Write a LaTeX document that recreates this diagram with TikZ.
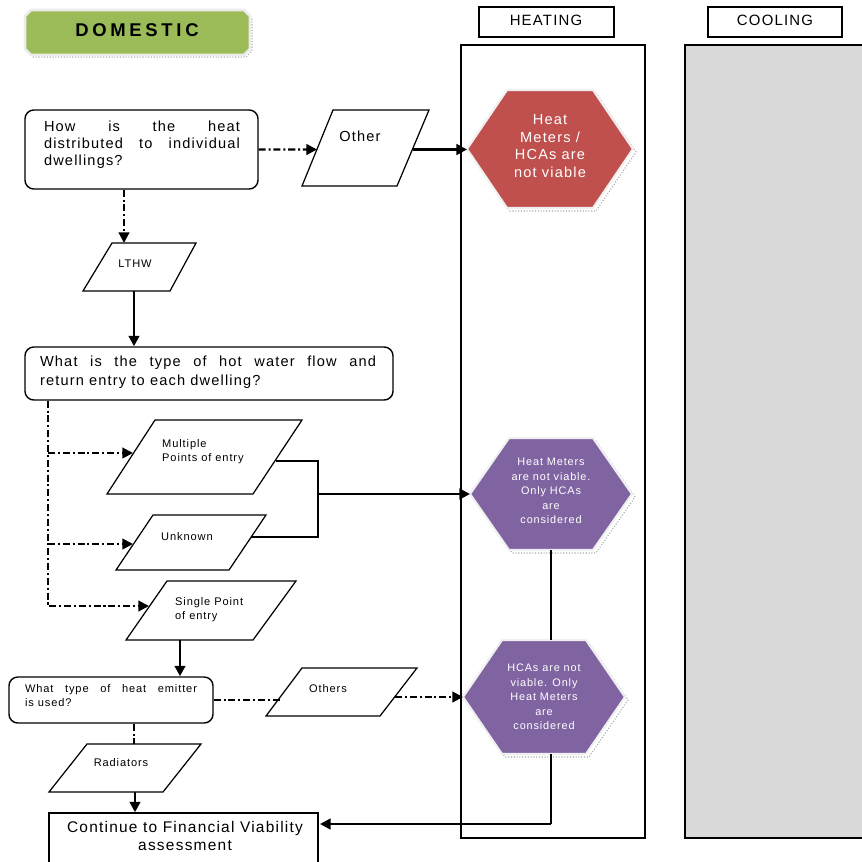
\documentclass[tikz,border=0pt]{standalone}
\usepackage{fontspec}
\setmainfont{Liberation Sans}[LetterSpace=8]
\usetikzlibrary{arrows.meta,fit,calc}

\definecolor{domgreen}{HTML}{9BBB59}
\definecolor{heatred}{HTML}{C0504D}
\definecolor{hcapurple}{HTML}{8064A2}
\definecolor{coolgray}{HTML}{D9D9D9}

\tikzset{
  qbox/.style={draw, line width=0.8pt, rounded corners=5pt, inner sep=0pt},
  hdbox/.style={draw, line width=0.8pt, inner sep=0pt},
  para/.style={draw, line width=0.7pt},
  dashdot/.style={line width=1.2pt, dash pattern=on 4pt off 1.6pt on 1.2pt off 1.6pt},
  flow/.style={line width=1.6pt},
  thinline/.style={line width=0.8pt},
  tip/.style={-{Triangle[length=6pt,width=6pt]}},
  bigtxt/.style={font=\fontsize{8.3}{9.6}\selectfont},
  smalltxt/.style={font=\fontsize{6.3}{8}\selectfont},
}

\begin{document}
\begin{tikzpicture}[x=0.02cm, y=-0.02cm]
    \useasboundingbox (0,0) rectangle (862,862);

    % Heating and cooling columns
    \draw[line width=0.8pt] (461,45) rectangle (645,838);
    \filldraw[fill=coolgray, line width=0.8pt] (685,45) rectangle (880,838);
    \node[hdbox, fit={(479,7) (614,37)}] (heat) {};
    \node[hdbox, fit={(708,7) (842,37)}] (cool) {};
    \node[font=\fontsize{8.5}{10}\selectfont] (heattxt) at (546,20) {HEATING};
    \node[font=\fontsize{8.5}{10}\selectfont] (cooltxt) at (775,20) {COOLING};

    % Domestic banner
    \draw[gray!70, densely dotted, line width=0.6pt, shift={(2,2)}]
        (31,10) -- (244,10) -- (250,16) -- (250,49) -- (244,55) -- (31,55) -- (25,49) -- (25,16) -- cycle;
    \filldraw[fill=domgreen, draw=gray!15, line width=1.5pt]
        (31,10) -- (244,10) -- (250,16) -- (250,49) -- (244,55) -- (31,55) -- (25,49) -- (25,16) -- cycle;
    \node[font=\fontsize{10.5}{12}\selectfont\bfseries\addfontfeatures{LetterSpace=20}] (dom) at (137,30) {DOMESTIC};

    % Question boxes
    \node[qbox, fit={(25,110) (258,189)}] (q1) {};
    \node[bigtxt, text width=3.92cm, align=justify] (q1txt) at (142,145)
        {How is the heat\linebreak distributed to individual\linebreak dwellings?};
    \node[qbox, fit={(25,347) (393,400)}] (q2) {};
    \node[font=\fontsize{8.3}{10.8}\selectfont, text width=6.72cm, align=justify] (q2txt) at (208,372)
        {What is the type of hot water flow and\linebreak return entry to each dwelling?};
    \node[qbox, fit={(9,677) (213,723)}] (q3) {};
    \node[smalltxt, text width=3.44cm, align=justify] (q3txt) at (111,696)
        {What type of heat emitter\linebreak is used?};
    \node[hdbox, fit={(49,813) (318,880)}] (cont) {};
    \node[font=\fontsize{8.8}{10}\selectfont, align=center] (conttxt) at (185,836)
        {Continue to Financial Viability\\assessment};

    % Answer parallelograms
    \foreach \nm/\tl/\tr/\br/\bl/\yt/\yb in {
        oth/333/429/397/302/110/186, lthw/112/196/170/83/243/291,
        mult/155/302/253/107/420/494, unkn/153/266/229/116/515/570,
        sing/167/296/253/126/581/640, oths/302/417/380/266/668/716,
        rad/87/201/163/49/744/792} {
        \draw[para] (\tl,\yt) -- (\tr,\yt) -- (\br,\yb) -- (\bl,\yb) -- cycle;
    }
    \node[bigtxt] (othtxt) at (360,136) {Other};
    \node[smalltxt] (lthwtxt) at (135,264) {LTHW};
    \node[smalltxt, anchor=west, align=left] (multtxt) at (156,452) {Multiple\\Points of entry};
    \node[smalltxt, anchor=west] (unkntxt) at (155,537) {Unknown};
    \node[smalltxt, anchor=west, align=left] (singtxt) at (169,610) {Single Point\\of entry};
    \node[smalltxt] (othstxt) at (328,689) {Others};
    \node[smalltxt] (radtxt) at (121,763) {Radiators};

    % Outcome hexagons
    \foreach \nm/\cx/\cy/\a/\b/\h/\col in {
        hexA/550/149/83/43/59/heatred, hexB/551/494/81/42/56/hcapurple,
        hexC/544/697/81/42/57/hcapurple} {
        \draw[gray!70, densely dotted, line width=0.6pt, shift={(3,3)}]
            (\cx-\a,\cy) -- (\cx-\b,\cy-\h) -- (\cx+\b,\cy-\h) -- (\cx+\a,\cy)
            -- (\cx+\b,\cy+\h) -- (\cx-\b,\cy+\h) -- cycle;
        \filldraw[fill=\col, draw=gray!12, line width=1.2pt]
            (\cx-\a,\cy) -- (\cx-\b,\cy-\h) -- (\cx+\b,\cy-\h) -- (\cx+\a,\cy)
            -- (\cx+\b,\cy+\h) -- (\cx-\b,\cy+\h) -- cycle;
        \coordinate (\nm-w) at (\cx-\a,\cy);
        \coordinate (\nm-n) at (\cx,\cy-\h);
        \coordinate (\nm-s) at (\cx,\cy+\h);
    }
    \node[text=white, align=center, font=\fontsize{8.3}{10}\selectfont] (hexAtxt) at (550,146)
        {Heat\\Meters /\\HCAs are\\not viable};
    \node[text=white, align=center, font=\fontsize{6.2}{8.2}\selectfont] (hexBtxt) at (551,491)
        {Heat Meters\\are not viable.\\Only HCAs\\are\\considered};
    \node[text=white, align=center, font=\fontsize{6.2}{8.2}\selectfont] (hexCtxt) at (544,697)
        {HCAs are not\\viable. Only\\Heat Meters\\are\\considered};

    % Connector end points
    \coordinate (oth-in) at (317,149.5);
    \coordinate (oth-out) at (413,149.5);
    \coordinate (lthw-in) at (124,243);
    \coordinate (lthw-out) at (134,291);
    \coordinate (trunk) at (48,606);
    \coordinate (mult-in) at (133,453);
    \coordinate (unkn-in) at (133,544);
    \coordinate (sing-in) at (149,606);
    \coordinate (mult-out) at (276,461);
    \coordinate (unkn-out) at (251,537);
    \coordinate (join) at (318,494);
    \coordinate (sing-out) at (180,640);
    \coordinate (oths-in) at (280,700);
    \coordinate (oths-out) at (395,697);
    \coordinate (rad-in) at (134,744);
    \coordinate (rad-out) at (135,792);
    \coordinate (cont-in) at (320,824);

    % Connectors
    \draw[dashdot, tip] (q1.east) -- (oth-in);
    \draw[flow, tip] (oth-out) -- (hexA-w |- oth-out);
    \draw[dashdot, tip] (q1.south -| lthw-in) -- (lthw-in);
    \draw[flow, tip] (lthw-out) -- (lthw-out |- q2.north);
    \draw[dashdot, tip] (q2.south -| trunk) -- (trunk) -- (sing-in);
    \draw[dashdot, tip] (trunk |- mult-in) -- (mult-in);
    \draw[dashdot, tip] (trunk |- unkn-in) -- (unkn-in);
    \draw[thinline] (mult-out) -| (join) |- (unkn-out);
    \draw[flow, tip] (join) -- (hexB-w);
    \draw[thinline] (hexB-s) -- (hexB-s |- hexC-n);
    \draw[thinline] (hexB-s |- hexC-s) -- (hexB-s |- cont-in);
    \draw[flow, tip] (hexB-s |- cont-in) -- (cont-in);
    \draw[flow, tip] (sing-out) -- (sing-out |- q3.north);
    \draw[dashdot] (q3.east) -- (oths-in);
    \draw[dashdot, tip] (oths-out) -- (hexC-w);
    \draw[dashdot] (q3.south -| rad-in) -- (rad-in);
    \draw[flow, tip] (rad-out) -- (rad-out |- cont.north);

\end{tikzpicture}
\end{document}
